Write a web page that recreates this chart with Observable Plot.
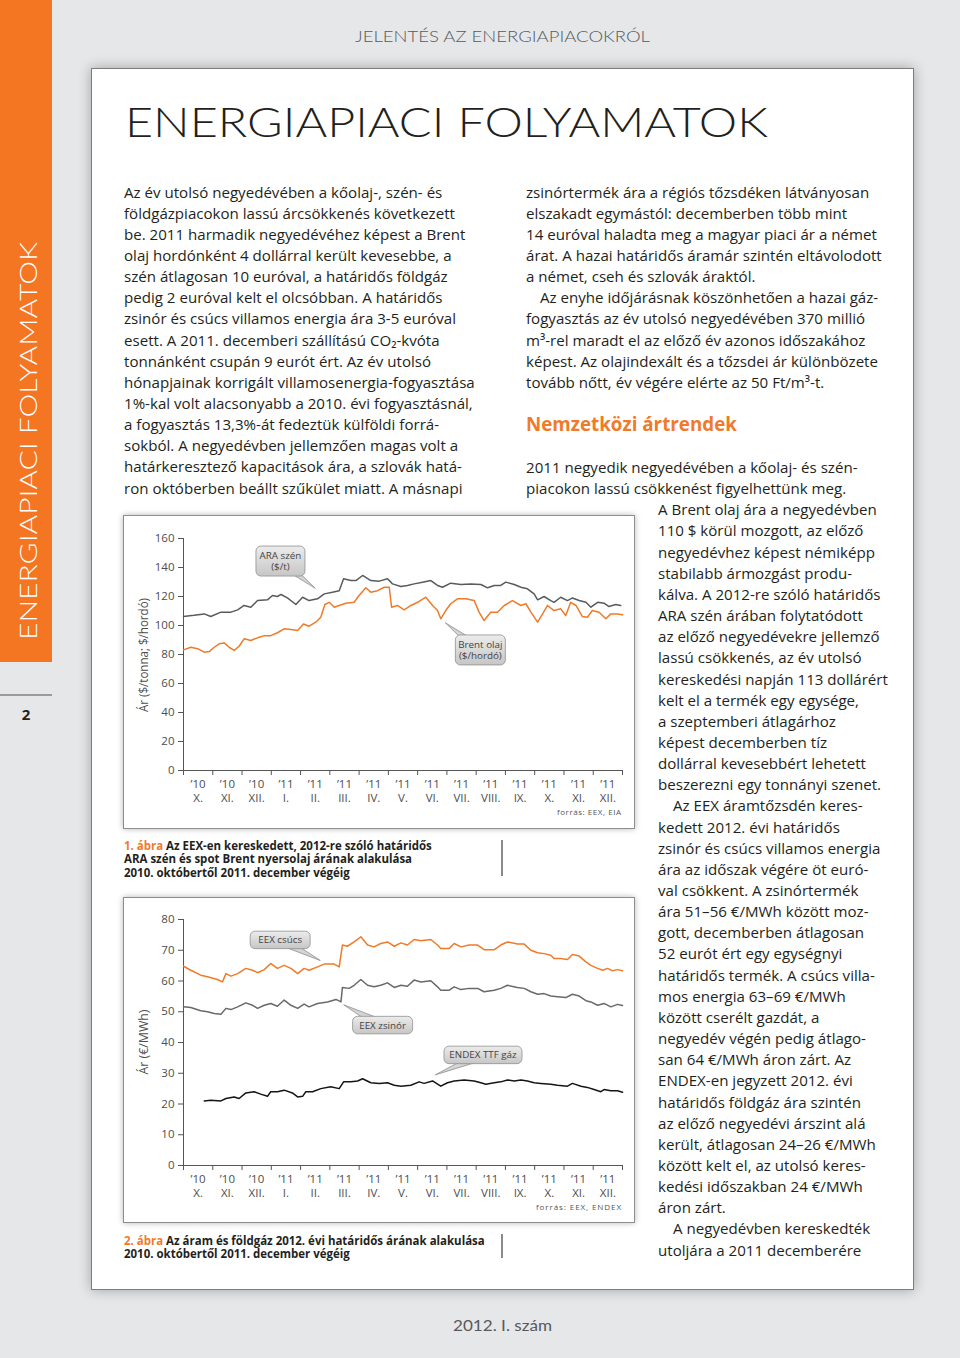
<!DOCTYPE html>
<html lang="hu"><head><meta charset="utf-8">
<script src="https://cdn.jsdelivr.net/npm/d3@7"></script>
<script src="https://cdn.jsdelivr.net/npm/@observablehq/plot@0.6"></script>
<style>
html,body{margin:0;padding:0}
body{width:960px;height:1358px;background:#e6e7e9;position:relative;overflow:hidden}
.box{position:absolute;box-sizing:border-box}
#side{left:0;top:0;width:52px;height:662px;background:#f47522}
#sideRule{left:0;top:694px;width:52px;height:2px;background:#9a9a9a}
#panel{left:91px;top:68px;width:823px;height:1222px;background:#fff;border:1px solid #7d7d7d;box-shadow:0 0 12px rgba(0,0,0,.3)}
.chartbox{background:#fff;border:1px solid #8e8e8e;box-shadow:0 0 6px rgba(0,0,0,.28)}
#cb1{left:123px;top:515px;width:512px;height:314px}
#cb2{left:123px;top:897px;width:512px;height:326px}
.bar{background:#8a8a8a;width:2px}
#bar1{left:501px;top:840px;height:36px}
#bar2{left:501px;top:1234px;height:24px}
#layer{position:absolute;left:0;top:0}
.plot{position:absolute}
#p1{left:124px;top:516px}
#p2{left:124px;top:898px}
</style></head><body>
<div class="box" id="side"></div>
<div class="box" id="sideRule"></div>
<div class="box" id="panel"></div>
<div class="box chartbox" id="cb1"></div>
<div class="box chartbox" id="cb2"></div>
<div class="box bar" id="bar1"></div>
<div class="box bar" id="bar2"></div>
<svg id="layer" width="960" height="1358" xmlns="http://www.w3.org/2000/svg"></svg>
<div class="plot" id="p1"></div>
<div class="plot" id="p2"></div>
<script>
// ---------- DATA (x = months since 1 Oct 2010, y = price) ----------
const monthLabels = ["’10\nX.","’10\nXI.","’10\nXII.","’11\nI.","’11\nII.","’11\nIII.","’11\nIV.","’11\nV.","’11\nVI.","’11\nVII.","’11\nVIII.","’11\nIX.","’11\nX.","’11\nXI.","’11\nXII."];
const ticks1 = [0,20,40,60,80,100,120,140,160];
const ticks2 = [0,10,20,30,40,50,60,70,80];

const brent = [[0,83.2],[0.25,85],[0.48,84],[0.71,81.6],[0.88,82],[1.05,85],[1.22,87.4],[1.39,88],[1.56,85],[1.73,82.8],[1.90,85.7],[2.07,90.8],[2.30,89.7],[2.53,91.5],[2.76,93],[2.98,93],[3.21,95],[3.44,97.7],[3.67,97.2],[3.90,96.5],[4.10,101],[4.29,99.5],[4.52,102.3],[4.69,105.7],[4.83,114.5],[4.98,116],[5.15,112.6],[5.32,113.8],[5.55,115.4],[5.83,116],[6.00,120.7],[6.23,126],[6.40,123],[6.63,124],[6.86,126.4],[7.03,126.4],[7.11,112.6],[7.31,113.8],[7.54,110.8],[7.77,113.8],[8.00,116],[8.28,119.5],[8.51,113.8],[8.68,110.3],[8.79,104.6],[8.96,110.3],[9.13,115],[9.36,118.4],[9.65,118.4],[9.93,117.2],[10.10,109.2],[10.27,103.4],[10.50,109.2],[10.73,109.2],[10.96,113.8],[11.24,117.2],[11.53,113.8],[11.70,115],[11.87,109.2],[12.10,102.3],[12.27,108],[12.44,113.8],[12.66,110.3],[12.89,111.5],[13.06,106.9],[13.23,116],[13.41,113.8],[13.63,106.2],[13.80,105.7],[13.97,110.3],[14.20,109.2],[14.43,104.6],[14.60,108],[14.83,108],[15,107.4]];
const araCoal = [[0,106.2],[0.36,107],[0.71,108],[0.93,106.2],[1.28,109.2],[1.62,109.2],[1.85,110.8],[2.07,113.8],[2.30,112.6],[2.53,117.2],[2.87,117.7],[3.04,120.7],[3.21,120],[3.33,121.4],[3.55,119],[3.84,114.5],[4.07,119.5],[4.29,117.2],[4.58,118.4],[4.81,121.8],[5.09,123],[5.32,124],[5.47,132.2],[5.72,131],[5.89,131],[6.12,134.5],[6.40,131],[6.69,130.6],[6.97,132.2],[7.14,128.7],[7.43,126.9],[7.65,127.6],[7.88,128.7],[8.17,129.9],[8.45,131],[8.68,127.6],[8.85,126.4],[9.13,129.2],[9.48,128.3],[9.82,128.7],[10.16,128.3],[10.39,126],[10.62,127.6],[10.84,127.6],[11.01,129.9],[11.30,128.3],[11.53,126.4],[11.75,125.3],[11.98,121.8],[12.10,117.7],[12.32,120],[12.55,117.2],[12.66,116],[12.89,119.5],[13.12,117.2],[13.29,119],[13.52,117.2],[13.75,116],[13.92,112.6],[14.15,116],[14.37,115.4],[14.54,113.1],[14.77,114.5],[14.94,113.8]];
const eexPeak = [[0,64.8],[0.25,63.5],[0.59,61.9],[0.82,61.4],[1.16,60.5],[1.33,59.7],[1.45,62.4],[1.62,61.6],[1.85,62.4],[2.13,64.1],[2.36,63.5],[2.53,62.7],[2.76,63.7],[2.98,65.7],[3.21,64.1],[3.44,65.1],[3.67,64.1],[3.90,62.4],[4.12,64.1],[4.29,63.5],[4.58,64.6],[4.81,65.5],[5.15,65.5],[5.32,64.6],[5.43,71.7],[5.60,71.3],[5.83,72.7],[6.06,74.4],[6.29,71.7],[6.51,71.1],[6.74,72.2],[6.97,72.7],[7.20,71.3],[7.43,72.4],[7.65,71.7],[7.88,73.5],[8.11,73.1],[8.45,73.5],[8.68,71.7],[8.79,70.6],[9.08,70.6],[9.25,72.2],[9.48,71.1],[9.76,71.7],[10.05,71.7],[10.27,70.2],[10.62,70.2],[10.84,71.7],[11.07,72.7],[11.41,72],[11.64,72],[11.87,70],[12.10,69.2],[12.32,68.9],[12.55,68.4],[12.66,67.3],[12.89,67.3],[13.12,67],[13.29,68.6],[13.52,68.1],[13.75,66.2],[13.92,65.1],[14.15,64.1],[14.32,63.5],[14.49,64.1],[14.66,63.3],[14.83,63.7],[15,63.3]];
const eexBase = [[0,51.6],[0.25,51.4],[0.59,50.3],[0.82,50],[1.05,49.4],[1.28,49.2],[1.45,51.1],[1.62,50.7],[1.85,51.6],[2.13,52.9],[2.36,52.1],[2.53,51.1],[2.76,52.1],[2.98,52.7],[3.21,51.8],[3.44,53.8],[3.67,52.1],[3.90,51.1],[4.12,52.5],[4.29,51.6],[4.58,52.7],[4.92,53.2],[5.21,54],[5.38,53.2],[5.43,57.9],[5.66,57.6],[5.83,58.6],[6.06,60.5],[6.29,58.6],[6.51,58.1],[6.74,58.6],[6.97,59.4],[7.20,57.9],[7.43,58.6],[7.65,58.3],[7.88,60.3],[8.11,59.7],[8.45,60.1],[8.68,58.1],[8.79,57],[9.08,57],[9.25,58.1],[9.48,57.2],[9.76,57.6],[10.05,57.6],[10.27,56.5],[10.62,57],[10.84,57.6],[11.07,58.6],[11.41,57.9],[11.64,57.6],[11.87,56.5],[12.10,55.7],[12.32,55.9],[12.55,55.1],[12.78,54.9],[13.06,54.6],[13.29,55.7],[13.52,55.1],[13.75,53.6],[13.92,53.2],[14.15,52.1],[14.37,52.7],[14.60,51.6],[14.83,52.4],[15,52]];
const ttfGas = [[0.71,21],[0.93,21.2],[1.28,21],[1.45,21.8],[1.73,22.3],[1.90,21.8],[2.13,23.6],[2.41,24],[2.64,23.2],[2.87,22.5],[2.98,24],[3.21,24],[3.44,24.5],[3.72,23.6],[3.90,22.3],[4.07,22.5],[4.18,24],[4.41,24],[4.69,25],[5.03,25.6],[5.32,25],[5.47,27.2],[5.72,27.2],[5.95,27.5],[6.12,28.2],[6.40,26.9],[6.69,26.7],[6.97,26.9],[7.20,26.1],[7.43,25.8],[7.77,26.1],[8.05,27.2],[8.22,26.7],[8.51,27.5],[8.79,25.8],[9.02,26.9],[9.25,27.5],[9.59,27.8],[9.93,27.5],[10.16,26.9],[10.33,26.4],[10.62,26.9],[10.84,27.2],[11.07,27.8],[11.30,27.5],[11.53,27.8],[11.75,27.5],[11.98,26.9],[12.21,26.7],[12.55,26.4],[12.78,26.1],[13.12,25.8],[13.29,26.7],[13.58,25.8],[13.80,25.4],[14.03,24.7],[14.26,24],[14.37,24.7],[14.60,24.3],[14.83,24.3],[15,23.8]];

// callout labels and where they point (data units)
const notes1 = [
  {lines:["ARA szén","($/t)"], x:4.52, y:125.3, bx:3.33, by:144.1, w:49, h:30},
  {lines:["Brent olaj","($/hordó)"], x:8.96, y:101.6, bx:10.16, by:82.8, w:50, h:30}
];
const notes2 = [
  {lines:["EEX csúcs"], x:4.69, y:66.5, bx:3.32, by:73.2, w:60, h:17.5},
  {lines:["EEX zsinór"], x:5.49, y:52.1, bx:6.82, by:45.5, w:60, h:17.5},
  {lines:["ENDEX TTF gáz"], x:8.62, y:29.3, bx:10.25, by:35.8, w:78, h:17.5}
];

// ---------- TEXT ----------
const leftCol = [
"Az év utolsó negyedévében a kőolaj-, szén- és",
"földgázpiacokon lassú árcsökkenés következett",
"be. 2011 harmadik negyedévéhez képest a Brent",
"olaj hordónként 4 dollárral került kevesebbe, a",
"szén átlagosan 10 euróval, a határidős földgáz",
"pedig 2 euróval kelt el olcsóbban. A határidős",
"zsinór és csúcs villamos energia ára 3-5 euróval",
"esett. A 2011. decemberi szállítású CO₂-kvóta",
"tonnánként csupán 9 eurót ért. Az év utolsó",
"hónapjainak korrigált villamosenergia-fogyasztása",
"1%-kal volt alacsonyabb a 2010. évi fogyasztásnál,",
"a fogyasztás 13,3%-át fedeztük külföldi forrá-",
"sokból. A negyedévben jellemzően magas volt a",
"határkeresztező kapacitások ára, a szlovák hatá-",
"ron októberben beállt szűkület miatt. A másnapi"];
const rightTop = [
"zsinórtermék ára a régiós tőzsdéken látványosan",
"elszakadt egymástól: decemberben több mint",
"14 euróval haladta meg a magyar piaci ár a német",
"árat. A hazai határidős áramár szintén eltávolodott",
"a német, cseh és szlovák áraktól.",
"\tAz enyhe időjárásnak köszönhetően a hazai gáz-",
"fogyasztás az év utolsó negyedévében 370 millió",
"m³-rel maradt el az előző év azonos időszakához",
"képest. Az olajindexált és a tőzsdei ár különbözete",
"tovább nőtt, év végére elérte az 50 Ft/m³-t."];
const heading = "Nemzetközi ártrendek";
const rightMid = [
"2011 negyedik negyedévében a kőolaj- és szén-",
"piacokon lassú csökkenést figyelhettünk meg."];
const narrow = [
"A Brent olaj ára a negyedévben","110 $ körül mozgott, az előző","negyedévhez képest némiképp",
"stabilabb ármozgást produ-","kálva. A 2012-re szóló határidős","ARA szén árában folytatódott",
"az előző negyedévekre jellemző","lassú csökkenés, az év utolsó","kereskedési napján 113 dollárért",
"kelt el a termék egy egysége,","a szeptemberi átlagárhoz","képest decemberben tíz",
"dollárral kevesebbért lehetett","beszerezni egy tonnányi szenet.","\tAz EEX áramtőzsdén keres-",
"kedett 2012. évi határidős","zsinór és csúcs villamos energia","ára az időszak végére öt euró-",
"val csökkent. A zsinórtermék","ára 51–56 €/MWh között moz-","gott, decemberben átlagosan",
"52 eurót ért egy egységnyi","határidős termék. A csúcs villa-","mos energia 63–69 €/MWh",
"között cserélt gazdát, a","negyedév végén pedig átlago-","san 64 €/MWh áron zárt. Az",
"ENDEX-en jegyzett 2012. évi","határidős földgáz ára szintén","az előző negyedévi árszint alá",
"került, átlagosan 24–26 €/MWh","között kelt el, az utolsó keres-","kedési időszakban 24 €/MWh",
"áron zárt.","\tA negyedévben kereskedték","utoljára a 2011 decemberére"];
const caption1 = [["1. ábra"," Az EEX-en kereskedett, 2012-re szóló határidős"],["","ARA szén és spot Brent nyersolaj árának alakulása"],["","2010. októbertől 2011. december végéig"]];
const caption2 = [["2. ábra"," Az áram és földgáz 2012. évi határidős árának alakulása"],["","2010. októbertől 2011. december végéig"]];

// ---------- PAGE TEXT ----------
const NS = "http://www.w3.org/2000/svg";
const layer = document.getElementById("layer");
function el(tag, attrs, parent) {
  const e = document.createElementNS(NS, tag);
  for (const k in attrs) e.setAttribute(k, attrs[k]);
  (parent || layer).appendChild(e);
  return e;
}
function txt(str, attrs, parent) { const t = el("text", attrs, parent); t.textContent = str; return t; }

const ORANGE = "#ef7b2a", INK = "#231f20";
const bodyFont = "'Open Sans', sans-serif", lightFont = "Lato, sans-serif";

txt("JELENTÉS AZ ENERGIAPIACOKRÓL", {x:355, y:41.5, "font-family":lightFont, "font-weight":300, "font-size":15.5, fill:"#58595b", textLength:295, lengthAdjust:"spacingAndGlyphs"});
txt("ENERGIAPIACI FOLYAMATOK", {x:125, y:137, "font-family":lightFont, "font-weight":300, "font-size":42, fill:INK, textLength:643, lengthAdjust:"spacingAndGlyphs"});
txt("ENERGIAPIACI FOLYAMATOK", {x:0, y:0, transform:"translate(36.5,640) rotate(-90)", "font-family":lightFont, "font-weight":300, "font-size":24, fill:"#fff", textLength:398, lengthAdjust:"spacingAndGlyphs"});
txt("2", {x:26, y:720, "text-anchor":"middle", "font-family":bodyFont, "font-weight":700, "font-size":15, fill:INK});
txt("2012. I. szám", {x:453, y:1331, "font-family":lightFont, "font-weight":400, "font-size":16, fill:"#58595b", textLength:99, lengthAdjust:"spacingAndGlyphs"});

// body size fitted on one reference line
const probe = txt("hónapjainak korrigált villamosenergia-fogyasztása", {x:0, y:-50, "font-family":bodyFont, "font-size":15});
const bodySize = 15 * 351 / probe.getComputedTextLength();
probe.remove();
const LH = 21.15;
function block(lines, x, y0, indent) {
  lines.forEach((s, i) => {
    const ind = s.startsWith("\t");
    txt(ind ? s.slice(1) : s, {x: x + (ind ? indent : 0), y: y0 + i * LH, "font-family":bodyFont, "font-size":bodySize, fill:INK});
  });
}
block(leftCol, 124, 197.5, 14);
block(rightTop, 526, 197.5, 14);
const hd = txt(heading, {x:526, y:430.7, "font-family":bodyFont, "font-weight":700, "font-size":19, fill:ORANGE});
hd.setAttribute("font-size", 19 * 211 / hd.getComputedTextLength());
block(rightMid, 526, 473, 14);
block(narrow, 658, 473 + 2 * LH, 15);

// captions
const cprobe = txt(caption1[0].join(""), {x:0, y:-50, "font-family":bodyFont, "font-weight":700, "font-size":11});
const capSize = 11 * 308 / cprobe.getComputedTextLength();
cprobe.remove();
function caption(lines, y0) {
  lines.forEach(([a, b], i) => {
    const t = el("text", {x:124, y:y0 + i * 13.7, "font-family":bodyFont, "font-weight":700, "font-size":capSize, fill:INK});
    if (a) { const s = el("tspan", {fill:ORANGE}, t); s.textContent = a; }
    const s2 = el("tspan", {}, t); s2.textContent = b;
  });
}
caption(caption1, 849.5);
caption(caption2, 1244.5);

// axis titles and sources
txt("Ár ($/tonna; $/hordó)", {x:0, y:0, transform:"translate(147.5,655) rotate(-90)", "text-anchor":"middle", "font-family":bodyFont, "font-size":12.5, fill:"#4d4d4d", textLength:114, lengthAdjust:"spacingAndGlyphs"});
txt("Ár (€/MWh)", {x:0, y:0, transform:"translate(147.5,1042) rotate(-90)", "text-anchor":"middle", "font-family":bodyFont, "font-size":12.5, fill:"#4d4d4d", textLength:65, lengthAdjust:"spacingAndGlyphs"});
txt("forrás: EEX, EIA", {x:557, y:815, "font-family":bodyFont, "font-size":8, fill:"#555", textLength:64, lengthAdjust:"spacing"});
txt("forrás: EEX, ENDEX", {x:536, y:1210, "font-family":bodyFont, "font-size":8, fill:"#555", textLength:85, lengthAdjust:"spacing"});

// ---------- CHARTS ----------
function callouts(notes, gid) {
  return (index, scales) => {
    const g = document.createElementNS(NS, "g");
    const defs = el("defs", {}, g);
    const lg = el("linearGradient", {id:gid, x1:0, y1:0, x2:0, y2:1}, defs);
    el("stop", {offset:"0%", "stop-color":"#ececec"}, lg);
    el("stop", {offset:"100%", "stop-color":"#c6c6c6"}, lg);
    for (const n of notes) {
      const tx = scales.x(n.x), ty = scales.y(n.y), cx = scales.x(n.bx), cy = scales.y(n.by);
      const dx = tx - cx, dy = ty - cy, L = Math.hypot(dx, dy), hw = 5;
      const px = -dy / L * hw, py = dx / L * hw;
      el("path", {d:`M${cx+px},${cy+py}L${tx},${ty}L${cx-px},${cy-py}Z`, fill:"#d4d4d4", stroke:"#8f8f8f", "stroke-width":0.8}, g);
      el("rect", {x:cx - n.w/2, y:cy - n.h/2, width:n.w, height:n.h, rx:5, fill:`url(#${gid})`, stroke:"#8f8f8f", "stroke-width":0.8}, g);
      n.lines.forEach((s, k) => {
        const t = el("text", {x:cx, y:cy + (k - (n.lines.length - 1) / 2) * 11.5, "text-anchor":"middle", "dominant-baseline":"central", "font-family":bodyFont, "font-size":9.8, fill:"#444"}, g);
        t.textContent = s;
      });
    }
    return g;
  };
}

function chart({series, yMax, yTicks, height, marginTop, marginBottom, notes, gid}) {
  return Plot.plot({
    width: 510, height, marginTop, marginBottom, marginLeft: 59, marginRight: 12,
    x: {domain: [0, 15]},
    y: {domain: [0, yMax]},
    style: {background: "transparent", fontFamily: "'Open Sans', sans-serif", fontSize: "11.5px", color: "#4d4d4d"},
    marks: [
      Plot.ruleX([0], {stroke: "#555", strokeWidth: 1}),
      Plot.ruleY([0], {stroke: "#555", strokeWidth: 1}),
      Plot.axisY({ticks: yTicks, tickSize: 5, tickPadding: 4, label: null, stroke: "#555", fill: "#4d4d4d"}),
      Plot.axisX({ticks: d3.range(16), tickSize: 5, tickFormat: () => "", label: null, stroke: "#555"}),
      Plot.axisX({ticks: d3.range(15).map(i => i + 0.5), tickSize: 0, tickPadding: 8, label: null, lineHeight: 1.17, fill: "#4d4d4d",
        tickFormat: d => monthLabels[Math.floor(d)]}),
      ...series.map(s => Plot.line(s.data, {x: d => d[0], y: d => d[1], stroke: s.color, strokeWidth: 1.5})),
      callouts(notes, gid)
    ]
  });
}

document.getElementById("p1").appendChild(chart({
  series: [{data: araCoal, color: "#585b5e"}, {data: brent, color: "#ef7b2a"}],
  yMax: 160, yTicks: ticks1, height: 312, marginTop: 22, marginBottom: 58, notes: notes1, gid: "g1"
}));
document.getElementById("p2").appendChild(chart({
  series: [{data: eexPeak, color: "#ef7b2a"}, {data: eexBase, color: "#67696c"}, {data: ttfGas, color: "#151515"}],
  yMax: 80, yTicks: ticks2, height: 324, marginTop: 21, marginBottom: 57, notes: notes2, gid: "g2"
}));
</script>
</body></html>
